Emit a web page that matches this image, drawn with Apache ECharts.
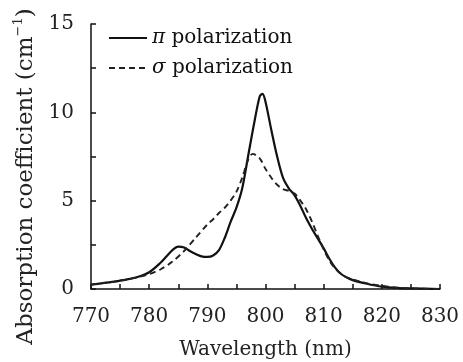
<!DOCTYPE html>
<html><head><meta charset="utf-8">
<script src="https://cdn.jsdelivr.net/npm/echarts@6/dist/echarts.min.js"></script>
<style>html,body{margin:0;padding:0;background:#fff;}#c{width:463px;height:362px;}</style>
</head><body><div id="c"></div>
<script>
// wavelength (nm) and absorption coefficient (cm^-1)
const piWavelength = [770,772,774,776,778,780,782,783,784,785,786,787,788,789,790,791,792,793,794,795,796,797,798,799,799.5,800,801,802,803,804,805,806,807,808,809,810,811,812,813,814,815,817,820,823,825,830];
const piValues     = [0.25,0.33,0.42,0.53,0.68,0.95,1.5,1.85,2.2,2.4,2.35,2.15,1.98,1.85,1.82,1.9,2.2,2.9,3.8,4.6,5.7,7.5,9.3,10.9,11.05,10.6,9.0,7.5,6.3,5.7,5.3,4.7,4.0,3.4,2.85,2.3,1.7,1.2,0.85,0.65,0.5,0.33,0.13,0.05,0.03,0.0];
const sigmaWavelength = [770,772,774,776,778,780,782,784,786,788,790,791,792,793,794,795,796,797,797.8,799,800,801,802,803,804,805,806,807,808,809,810,811,812,813,814,816,818,820,823,825,830];
const sigmaValues     = [0.25,0.33,0.42,0.53,0.66,0.84,1.12,1.55,2.15,2.9,3.65,3.95,4.3,4.6,5.0,5.5,6.3,7.3,7.65,7.4,6.8,6.3,5.9,5.65,5.55,5.4,5.0,4.5,3.8,3.0,2.25,1.6,1.15,0.85,0.65,0.45,0.28,0.18,0.07,0.03,0.0];
const seriesNames = ['π polarization', 'σ polarization'];
const xTicks = {min: 770, max: 830, step: 5, labelStep: 10};
const yTicks = {min: 0, max: 15, step: 2.5, labelStep: 5};

const FONT = 'DejaVu Serif';
const zip = (a, b) => a.map((x, i) => [x, b[i]]);
const chart = echarts.init(document.getElementById('c'), null, {renderer: 'canvas'});
chart.setOption({
  animation: false,
  backgroundColor: '#fff',
  grid: {left: 91, right: 23, top: 24, bottom: 73, containLabel: false, outerBoundsMode: 'none'},
  legend: {
    orient: 'vertical', left: 103, top: 23, itemWidth: 38, itemHeight: 14, itemGap: 10,
    data: seriesNames,
    itemStyle: {opacity: 0, borderWidth: 0},
    formatter: n => '{g|' + n.charAt(0) + '} ' + n.slice(2),
    textStyle: {fontFamily: FONT, fontSize: 20, color: '#111',
      rich: {g: {fontFamily: FONT, fontStyle: 'italic', fontSize: 20, color: '#111'}}}
  },
  xAxis: {
    type: 'value', min: xTicks.min, max: xTicks.max, interval: xTicks.step,
    name: 'Wavelength (nm)', nameLocation: 'middle', nameGap: 51,
    nameTextStyle: {fontFamily: FONT, fontSize: 20, color: '#222'},
    axisLine: {lineStyle: {color: '#111', width: 1.5}},
    axisTick: {inside: true, length: 5, lineStyle: {color: '#111', width: 1.5}},
    splitLine: {show: false},
    axisLabel: {fontFamily: FONT, fontSize: 20, color: '#222', margin: 18,
      formatter: v => (v % xTicks.labelStep === 0 ? String(v) : '')}
  },
  yAxis: {
    type: 'value', min: yTicks.min, max: yTicks.max, interval: yTicks.step,
    name: '{t|Absorption coefficient (cm}{s|−1}{t|)}', nameLocation: 'middle', nameGap: 45,
    nameTextStyle: {fontFamily: FONT, fontSize: 23, color: '#222', padding: [0, 40, 0, 0],
      rich: {t: {fontFamily: FONT, fontSize: 23, color: '#222', lineHeight: 28},
             s: {fontFamily: FONT, fontSize: 13, color: '#222', verticalAlign: 'top', lineHeight: 28}}},
    axisLine: {show: true, lineStyle: {color: '#111', width: 1.5}},
    axisTick: {show: true, inside: true, length: 5, lineStyle: {color: '#111', width: 1.5}},
    splitLine: {show: false},
    axisLabel: {fontFamily: FONT, fontSize: 20, color: '#222', margin: 17,
      formatter: v => (v % yTicks.labelStep === 0 ? String(v) : '')}
  },
  series: [
    {name: seriesNames[0], type: 'line', data: zip(piWavelength, piValues), smooth: 0.3,
     showSymbol: false, symbol: 'none', lineStyle: {color: '#111', width: 2.2, type: 'solid'}, itemStyle: {color: '#111'}},
    {name: seriesNames[1], type: 'line', data: zip(sigmaWavelength, sigmaValues), smooth: 0.3,
     showSymbol: false, symbol: 'none', lineStyle: {color: '#222', width: 1.9, type: [6, 4]}, itemStyle: {color: '#222'}}
  ]
});
</script></body></html>
